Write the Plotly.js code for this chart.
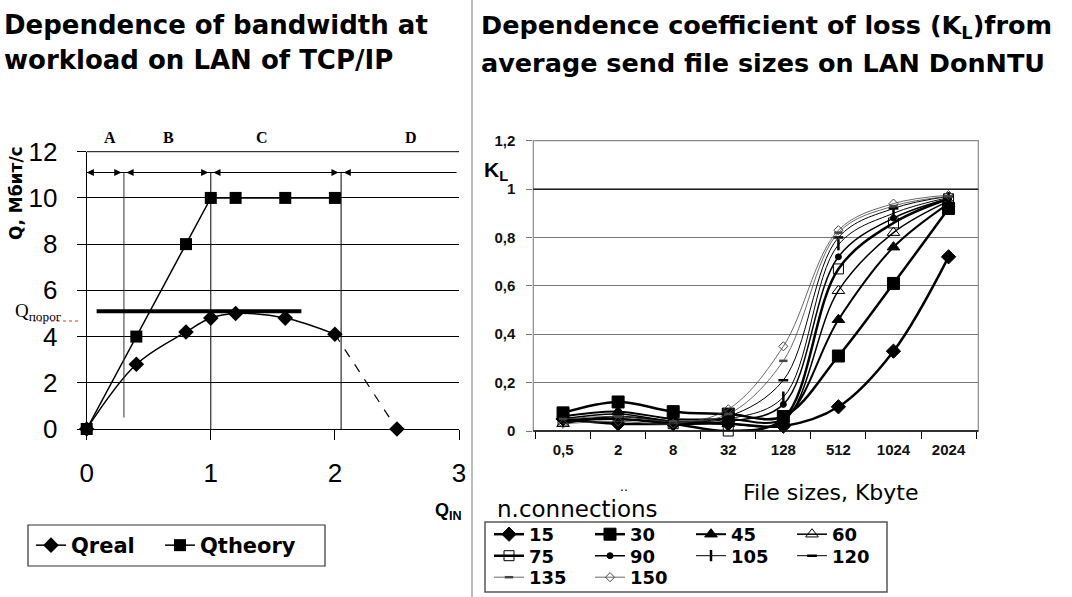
<!DOCTYPE html>
<html>
<head>
<meta charset="utf-8">
<script src="https://cdn.plot.ly/plotly-3.0.1.min.js"></script>
<style>html,body{margin:0;padding:0;background:#fff}#chart{width:1072px;height:597px}</style>
</head>
<body>
<div id="chart"></div>
<script>
// ---------- Left chart data ----------
const qIn = [0, 0.4, 0.8, 1.0, 1.2, 1.6, 2.0, 2.5];
const qReal = [0, 2.8, 4.2, 4.8, 5.0, 4.8, 4.1, 0];
const qTheory = [0, 4, 8, 10, 10, 10, 10];
const regionBounds = [0, 0.3, 1, 2.05, 3];
const regionLabels = ['A', 'B', 'C', 'D'];
const regionLabelX = [0.19, 0.66, 1.41, 2.61];
const arrowLevel = 11.1;
const qThreshold = 5.1;
const qThresholdSpan = [0.08, 1.73];

// ---------- Right chart data ----------
const fileSizes = ['0,5', '2', '8', '32', '128', '512', '1024', '2024'];
const connections = ['15', '30', '45', '60', '75', '90', '105', '120', '135', '150'];
const k15  = [0.05, 0.03, 0.03, 0.03, 0.02, 0.10, 0.33, 0.72];
const k30  = [0.075, 0.12, 0.08, 0.07, 0.06, 0.31, 0.61, 0.92];
const k45  = [0.06, 0.08, 0.05, 0.05, 0.05, 0.46, 0.76, 0.94];
const k60  = [0.03, 0.06, 0.04, 0.03, 0.04, 0.58, 0.82, 0.95];
const k75  = [0.04, 0.05, 0.03, 0.0, 0.05, 0.67, 0.86, 0.96];
const k90  = [0.05, 0.07, 0.04, 0.04, 0.11, 0.72, 0.88, 0.96];
const k105 = [0.04, 0.06, 0.04, 0.05, 0.14, 0.77, 0.90, 0.965];
const k120 = [0.05, 0.05, 0.04, 0.06, 0.21, 0.80, 0.92, 0.97];
const k135 = [0.05, 0.06, 0.04, 0.07, 0.29, 0.82, 0.93, 0.97];
const k150 = [0.03, 0.04, 0.03, 0.09, 0.35, 0.83, 0.94, 0.975];
const kSeries = [k15, k30, k45, k60, k75, k90, k105, k120, k135, k150];
const kYTicks = [0, 0.2, 0.4, 0.6, 0.8, 1, 1.2];

// ---------- styles ----------
const W = 1072, H = 597;
const px = v => v / W;
const py = v => 1 - v / H;
const SANS = 'Liberation Sans, Arial, sans-serif';
const WIDE = 'DejaVu Sans, Liberation Sans, sans-serif';
const SERIF = 'Liberation Serif, Times New Roman, serif';

const kStyles = [
  {symbol: 'diamond', size: 11, lw: 2.5, color: '#000'},
  {symbol: 'square', size: 12, lw: 2.5, color: '#000'},
  {symbol: 'triangle-up', size: 11, lw: 2, color: '#000'},
  {symbol: 'triangle-up-open', size: 11, lw: 1.5, color: '#000'},
  {symbol: 'square-open', size: 10, lw: 2.5, color: '#000'},
  {symbol: 'circle', size: 6, lw: 1.5, color: '#000'},
  {symbol: 'line-ns-open', size: 8, lw: 1, color: '#000'},
  {symbol: 'line-ew-open', size: 7, lw: 1, color: '#000'},
  {symbol: 'line-ew-open', size: 6, lw: 0.8, color: '#444'},
  {symbol: 'diamond-open', size: 7, lw: 0.8, color: '#444'}
];
const legendRow = ['legend2','legend2','legend2','legend2','legend3','legend3','legend3','legend3','legend4','legend4'];

const traces = [];
traces.push({
  x: qIn.slice(0, 7), y: qReal.slice(0, 7), name: 'Qreal', type: 'scatter', mode: 'lines+markers',
  xaxis: 'x', yaxis: 'y', line: {color: '#000', width: 1.5, shape: 'spline'},
  marker: {symbol: 'diamond', size: 12, color: '#000', line: {color: '#000', width: 0}}, legend: 'legend', cliponaxis: false
});
traces.push({
  x: qIn.slice(6), y: qReal.slice(6), name: 'Qreal', type: 'scatter', mode: 'lines',
  xaxis: 'x', yaxis: 'y', line: {color: '#000', width: 1.2, dash: 'dash'},
  showlegend: false, cliponaxis: false
});
traces.push({
  x: qIn.slice(7), y: qReal.slice(7), name: 'Qreal', type: 'scatter', mode: 'markers',
  xaxis: 'x', yaxis: 'y', marker: {symbol: 'diamond', size: 12, color: '#000', line: {color: '#000', width: 0}},
  showlegend: false, cliponaxis: false
});
traces.push({
  x: qIn.slice(0, 7), y: qTheory, name: 'Qtheory', type: 'scatter', mode: 'lines+markers',
  xaxis: 'x', yaxis: 'y', line: {color: '#000', width: 1.5},
  marker: {symbol: 'square', size: 12, color: '#000', line: {color: '#000', width: 0}}, legend: 'legend5', cliponaxis: false
});
kSeries.forEach((ys, i) => {
  const s = kStyles[i];
  traces.push({
    x: fileSizes, y: ys, name: connections[i], type: 'scatter', mode: 'lines+markers',
    xaxis: 'x2', yaxis: 'y2', legend: legendRow[i],
    line: {color: s.color, width: s.lw, shape: 'spline', smoothing: 1},
    marker: {symbol: s.symbol, size: s.size, color: s.color, line: {color: s.color, width: (s.symbol.indexOf('line') === 0 ? 2.5 : 1)}},
    cliponaxis: false
  });
});

const shapes = [];
shapes.push({type: 'line', xref: 'paper', yref: 'paper', x0: px(472), x1: px(472), y0: 0, y1: 1, line: {color: '#bdbdbd', width: 2}});
shapes.push({type: 'line', xref: 'x', yref: 'y', x0: regionBounds[1], x1: regionBounds[1], y0: 0.5, y1: arrowLevel, line: {color: '#333', width: 1}});
shapes.push({type: 'line', xref: 'x', yref: 'y', x0: regionBounds[2], x1: regionBounds[2], y0: 0, y1: arrowLevel, line: {color: '#000', width: 1}});
shapes.push({type: 'line', xref: 'x', yref: 'y', x0: regionBounds[3], x1: regionBounds[3], y0: 0, y1: arrowLevel, line: {color: '#000', width: 1}});
shapes.push({type: 'line', xref: 'x', yref: 'y', x0: regionBounds[0], x1: 2.98, y0: arrowLevel, y1: arrowLevel, line: {color: '#000', width: 1}});
shapes.push({type: 'line', xref: 'x', yref: 'y', x0: qThresholdSpan[0], x1: qThresholdSpan[1], y0: qThreshold, y1: qThreshold, line: {color: '#000', width: 4}});
shapes.push({type: 'line', xref: 'x domain', yref: 'y domain', x0: 0, x1: 1, y0: 1, y1: 1, line: {color: '#000', width: 1}});
shapes.push({type: 'rect', xref: 'x2 domain', yref: 'y2 domain', x0: 0, x1: 1, y0: 0, y1: 1, line: {color: '#8a8a8a', width: 1.2}});
shapes.push({type: 'line', xref: 'x2 domain', yref: 'y2', x0: 0, x1: 1, y0: 1, y1: 1, line: {color: '#000', width: 1.3}});
shapes.push({type: 'line', xref: 'x2 domain', yref: 'y2 domain', x0: 0, x1: 1, y0: 0, y1: 0, line: {color: '#000', width: 1.3}});
// legend boxes
shapes.push({type: 'rect', xref: 'paper', yref: 'paper', x0: px(485), x1: px(887), y0: py(592), y1: py(522), line: {color: '#555', width: 1.5}});
shapes.push({type: 'rect', xref: 'paper', yref: 'paper', x0: px(28), x1: px(325), y0: py(566), y1: py(525), line: {color: '#333', width: 1.2}});
// red spell-check underline under Q subscript
shapes.push({type: 'line', xref: 'paper', yref: 'paper', x0: px(33), x1: px(80), y0: py(321), y1: py(321), line: {color: '#e03030', width: 1, dash: 'dot'}});

const annotations = [];
const txt = (text, x, y, o) => Object.assign({text, x: px(x), y: py(y), xref: 'paper', yref: 'paper', showarrow: false, xanchor: 'left', yanchor: 'middle'}, o || {});
annotations.push(txt('<b>Dependence of bandwidth at</b>', 2, 25, {font: {family: WIDE, size: 26, color: '#000'}}));
annotations.push(txt('<b>workload on LAN of TCP/IP</b>', 2, 60, {font: {family: WIDE, size: 26, color: '#000'}}));
annotations.push(txt('<b>Dependence coefficient of loss (K<sub>L</sub>)from</b>', 479, 27, {font: {family: WIDE, size: 25.5, color: '#000'}}));
annotations.push(txt('<b>average send file sizes on LAN DonNTU</b>', 479, 63, {font: {family: WIDE, size: 25.5, color: '#000'}}));
annotations.push(txt('<b>Q, Мбит/с</b>', 16, 193, {xanchor: 'center', textangle: -90, font: {family: WIDE, size: 17, color: '#000'}}));
annotations.push(txt('Q<sub>порог</sub>', 13, 312, {font: {family: SERIF, size: 19, color: '#000'}}));
annotations.push(txt('<b>Q<sub>IN</sub></b>', 448, 511, {xanchor: 'center', font: {family: SANS, size: 18, color: '#000'}}));
annotations.push(txt('<b>K<sub>L</sub></b>', 482, 171, {font: {family: SANS, size: 21, color: '#000'}}));
annotations.push(txt('File sizes, Kbyte', 741, 492, {font: {family: WIDE, size: 22, color: '#000'}}));
annotations.push(txt('n.connections', 495, 509, {font: {family: WIDE, size: 23, color: '#000'}}));
annotations.push(txt('..', 618, 486, {font: {family: SANS, size: 14, color: '#000'}}));
regionLabels.forEach((lab, i) => {
  annotations.push({text: '<b>' + lab + '</b>', x: regionLabelX[i], xref: 'x', y: py(137), yref: 'paper', showarrow: false,
    xanchor: 'center', yanchor: 'middle', font: {family: SERIF, size: 16, color: '#000'}});
});
for (let i = 0; i < 4; i++) {
  const b0 = regionBounds[i], b1 = regionBounds[i + 1];
  annotations.push({x: b0 + (i === 0 ? 0 : 0.02), y: arrowLevel, ax: b0 + 0.12, ay: arrowLevel, xref: 'x', yref: 'y', axref: 'x', ayref: 'y',
    text: '', showarrow: true, arrowhead: 2, arrowsize: 1.2, arrowwidth: 1.2, arrowcolor: '#000'});
  if (i < 3) {
    annotations.push({x: b1 - 0.02, y: arrowLevel, ax: b1 - 0.14, ay: arrowLevel, xref: 'x', yref: 'y', axref: 'x', ayref: 'y',
      text: '', showarrow: true, arrowhead: 2, arrowsize: 1.2, arrowwidth: 1.2, arrowcolor: '#000'});
  }
}

const legFont = {family: WIDE, size: 18, color: '#000', weight: 'bold'};
const rowLegend = (y) => ({x: px(489), y: py(y), xanchor: 'left', yanchor: 'middle', orientation: 'h',
  bgcolor: 'rgba(0,0,0,0)', borderwidth: 0, font: legFont, entrywidth: 56, entrywidthmode: 'pixels',
  itemsizing: 'trace', tracegroupgap: 0});
const leftLegend = (x) => ({x: px(x), y: py(545.5), xanchor: 'left', yanchor: 'middle', orientation: 'h',
  bgcolor: 'rgba(0,0,0,0)', borderwidth: 0, font: {family: WIDE, size: 21, color: '#000', weight: 'bold'}, itemsizing: 'trace'});

const layout = {
  width: W, height: H, margin: {l: 0, r: 0, t: 0, b: 0},
  paper_bgcolor: '#fff', plot_bgcolor: 'rgba(0,0,0,0)', separators: ', ',
  font: {family: SANS, color: '#000'},
  showlegend: true,
  xaxis: {domain: [px(86.7), px(459)], range: [0, 3], dtick: 1, tick0: 0, anchor: 'y',
    ticks: 'outside', ticklen: 10, tickcolor: '#000', showgrid: false, zeroline: false,
    showline: true, linecolor: '#000', tickfont: {family: SANS, size: 26, color: '#000'}, ticklabelstandoff: 11, fixedrange: true},
  yaxis: {domain: [py(429), py(151.7)], range: [0, 12], dtick: 2, tick0: 0, anchor: 'x',
    ticks: 'outside', ticklen: 9, tickcolor: '#000', showgrid: true, gridcolor: '#000', gridwidth: 1, zeroline: false,
    showline: true, linecolor: '#000', tickfont: {family: SANS, size: 26, color: '#000'}, ticklabelstandoff: 14, fixedrange: true},
  xaxis2: {domain: [px(533.3), px(978.3)], type: 'category', categoryorder: 'array', categoryarray: fileSizes, anchor: 'y2',
    tickson: 'boundaries', ticks: 'outside', ticklen: 7, tickcolor: '#000', showgrid: false, zeroline: false,
    showline: false, tickfont: {family: SANS, size: 15, color: '#111', weight: 'bold'}, ticklabelstandoff: 8, fixedrange: true},
  yaxis2: {domain: [py(431), py(140.7)], range: [0, 1.2], tickvals: kYTicks, anchor: 'x2',
    ticks: 'outside', ticklen: 6, tickcolor: '#777', showgrid: true, gridcolor: '#777', gridwidth: 1, zeroline: false,
    showline: false, tickfont: {family: SANS, size: 15, color: '#111', weight: 'bold'}, ticklabelstandoff: 8, fixedrange: true},
  legend: leftLegend(31),
  legend5: leftLegend(160),
  legend2: rowLegend(534.5),
  legend3: rowLegend(556),
  legend4: rowLegend(577.5),
  shapes, annotations
};

Plotly.newPlot('chart', traces, layout, {displayModeBar: false, staticPlot: true});
</script>
</body>
</html>
